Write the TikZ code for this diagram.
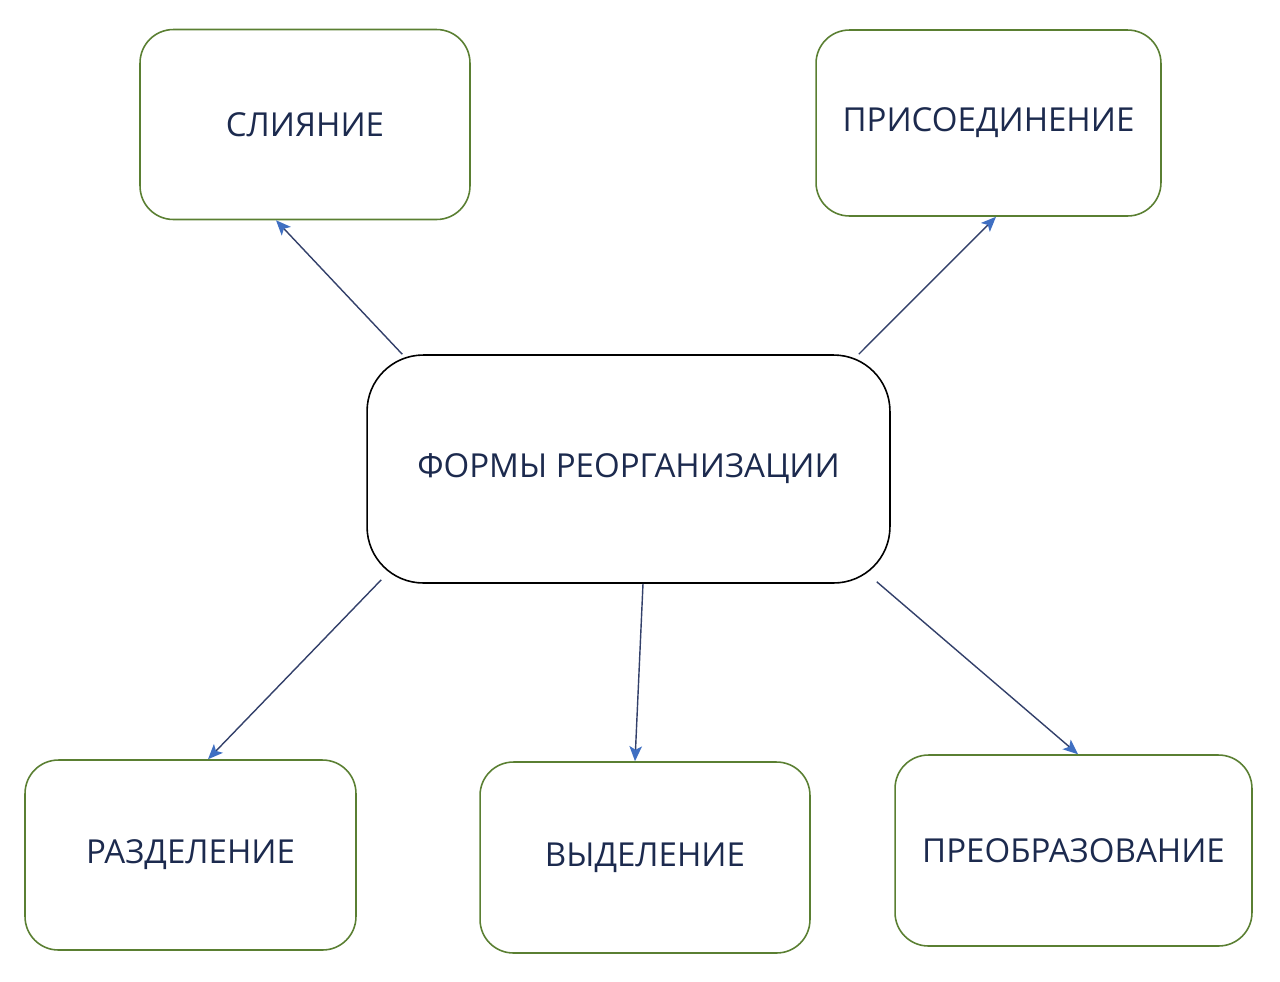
\documentclass[tikz,border=0pt]{standalone}
\usepackage{fontspec}
\setmainfont{Open Sans}
\usetikzlibrary{arrows.meta}
\definecolor{boxgreen}{HTML}{5A7F32}
\definecolor{textnavy}{HTML}{1C2A4E}
\definecolor{linenavy}{HTML}{33406A}
\definecolor{tipblue}{HTML}{3F6FC2}
\begin{document}
\begin{tikzpicture}[
  x=0.02cm, y=-0.02cm,
  every node/.style={rounded corners=19pt, draw=boxgreen, line width=0.9pt,
    text=textnavy, font=\fontsize{18.8}{22}\selectfont, inner sep=0pt},
  formbox/.style={minimum height=3.8cm},
  mainbox/.style={draw=black, rounded corners=32pt, minimum width=10.46cm, minimum height=4.56cm},
  link/.style={draw=linenavy, line width=0.8pt,
    -{Stealth[length=0.3cm, width=0.25cm, inset=0.07cm, color=tipblue]}}
]
\useasboundingbox (0,0) rectangle (1280,981);
\node[mainbox] (forms) at (628.5,469) {ФОРМЫ РЕОРГАНИЗАЦИИ};
\node[formbox, minimum width=6.6cm] (merge) at (305,124.5) {СЛИЯНИЕ};
\node[formbox, minimum width=6.9cm, minimum height=3.72cm] (join) at (988.5,123) {ПРИСОЕДИНЕНИЕ};
\node[formbox, minimum width=6.62cm] (split) at (190.5,855) {РАЗДЕЛЕНИЕ};
\node[formbox, minimum width=6.6cm, minimum height=3.82cm] (spin) at (645,857.5) {ВЫДЕЛЕНИЕ};
\node[formbox, minimum width=7.14cm, minimum height=3.82cm] (convert) at (1073.5,850.5) {ПРЕОБРАЗОВАНИЕ};
% arrows from the centre box
\draw[link] ([xshift=0.72cm]forms.north west) -- ([xshift=-0.58cm]merge.south);
\draw[link] ([xshift=-0.64cm]forms.north east) -- ([xshift=0.15cm]join.south);
\draw[link] ([shift={(0.3cm,0.08cm)}]forms.south west) -- ([xshift=0.35cm]split.north);
\draw[link] ([xshift=0.29cm]forms.south) -- ([xshift=-0.2cm]spin.north);
\draw[link] ([shift={(-0.28cm,0.04cm)}]forms.south east) -- ([xshift=0.09cm]convert.north);
\end{tikzpicture}
\end{document}
